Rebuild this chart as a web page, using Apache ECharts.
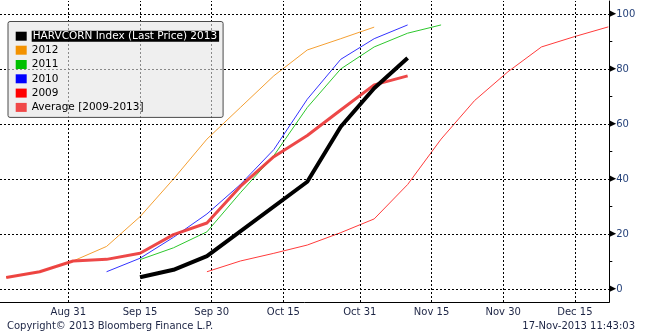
<!DOCTYPE html>
<html>
<head>
<meta charset="utf-8">
<script src="https://cdn.jsdelivr.net/npm/echarts@6/dist/echarts.min.js"></script>
<style>
html,body{margin:0;padding:0;background:#fff;}
#c{width:649px;height:335px;}
</style>
</head>
<body>
<div id="c"></div>
<script>
// ---- data ----
const xTickDates = ['2013-08-31','2013-09-15','2013-09-30','2013-10-15','2013-10-31','2013-11-15','2013-11-30','2013-12-15'];
const xTickLabels = ['Aug 31','Sep 15','Sep 30','Oct 15','Oct 31','Nov 15','Nov 30','Dec 15'];
const yTickValues = [0,20,40,60,80,100];
const yMinorTicks = [10,30,50,70,90];

const seriesNames = ['HARVCORN Index (Last Price) 2013','2012','2011','2010','2009','Average [2009-2013]'];

const harv2013 = [['2013-09-15',4.3],['2013-09-22',7],['2013-09-29',12],['2013-10-20',39],['2013-10-27',59],['2013-11-03',73],['2013-11-10',84]];
const y2012 = [['2013-08-18',4.2],['2013-08-25',6.3],['2013-09-01',10.2],['2013-09-08',15.5],['2013-09-15',26.3],['2013-09-22',40],['2013-09-29',54.5],['2013-10-06',66],['2013-10-13',77.5],['2013-10-20',86.9],['2013-10-27',91],['2013-11-03',95.2]];
const y2011 = [['2013-09-15',10.7],['2013-09-22',15],['2013-09-29',20.8],['2013-10-06',35],['2013-10-13',48.5],['2013-10-20',66],['2013-10-27',80],['2013-11-03',88],['2013-11-10',93],['2013-11-17',96]];
const y2010 = [['2013-09-08',6.3],['2013-09-15',11.2],['2013-09-22',18.8],['2013-09-29',27.3],['2013-10-06',38],['2013-10-13',50.7],['2013-10-20',69],['2013-10-27',83.5],['2013-11-03',91],['2013-11-10',96]];
const y2009 = [['2013-09-29',6.3],['2013-10-06',10.2],['2013-10-13',13],['2013-10-20',16],['2013-10-27',20.5],['2013-11-03',25.5],['2013-11-10',38],['2013-11-17',54.5],['2013-11-24',68.5],['2013-12-01',79],['2013-12-08',88],['2013-12-15',91.8],['2013-12-22',95.3]];
const avg = [['2013-08-18',4.2],['2013-08-25',6.3],['2013-09-01',10.2],['2013-09-08',10.8],['2013-09-15',13],['2013-09-22',19.8],['2013-09-29',24],['2013-10-06',37.3],['2013-10-13',48.1],['2013-10-20',55.8],['2013-10-27',65.1],['2013-11-03',74.2],['2013-11-10',77.5]];

// ---- chart ----
const DAY = 86400000;
const ts = s => new Date(s.replace(/-/g,'/')).getTime();
const toXY = arr => arr.map(p => [ts(p[0]), p[1]]);
const anchor = ts('2013-08-31');
const xMin = anchor - 14.3*DAY;
const xMax = anchor + 113.2*DAY;
const xTickTs = xTickDates.map(ts);
const FONT = 'DejaVu Sans';
const TXT = '#1c2444';

const chart = echarts.init(document.getElementById('c'), null, {renderer:'canvas'});

function lineSeries(name, data, lineColor, iconColor, width, z) {
  return {
    name, type:'line', data:toXY(data), symbol:'none', z,
    lineStyle:{color:lineColor, width},
    itemStyle:{color:iconColor},
    emphasis:{disabled:true},
    animation:false
  };
}

const option = {
  animation:false,
  backgroundColor:'#fff',
  grid:{left:0, right:39.7, top:1, bottom:33, outerBoundsMode:'none', containLabel:false},
  xAxis:{
    type:'value', min:xMin, max:xMax, scale:true,
    axisLine:{show:true, onZero:false, lineStyle:{color:'#000', width:1}},
    axisTick:{show:false, customValues:xTickTs},
    splitLine:{show:false},
    axisLabel:{
      customValues:xTickTs, margin:5,
      fontFamily:FONT, fontSize:10, color:TXT,
      formatter: v => { const i = xTickTs.indexOf(v); return i >= 0 ? xTickLabels[i] : ''; }
    }
  },
  yAxis:{
    type:'value', position:'right', min:-4.7, max:104.7,
    axisLine:{show:true, onZero:false, lineStyle:{color:'#000', width:1}},
    axisTick:{show:true, customValues:yMinorTicks, length:3, lineStyle:{color:'#000'}},
    splitLine:{show:false},
    axisLabel:{
      customValues:yTickValues, margin:0,
      formatter: v => '{t|\u25B6}{n|' + v + '}',
      rich:{
        t:{fontFamily:FONT, fontSize:9, color:'#000'},
        n:{fontFamily:FONT, fontSize:10, color:'#26427a'}
      }
    }
  },
  legend:{
    orient:'vertical', left:8, top:21.5, z:20,
    data:seriesNames,
    icon:'rect', itemWidth:11, itemHeight:9, itemGap:0.3,
    padding:[8,4,3,7.7],
    backgroundColor:'rgba(228,228,228,0.6)', borderColor:'#4a4a4a', borderWidth:1, borderRadius:2,
    selectedMode:false,
    textStyle:{fontFamily:FONT, fontSize:10.5, color:'#000', lineHeight:14,
      rich:{hl:{backgroundColor:'#000', color:'#fff', fontFamily:FONT, fontSize:10.5, lineHeight:13.4, padding:[0,2,0,1]}}},
    formatter: name => name === seriesNames[0] ? '{hl|' + name + '}' : name
  },
  series:[
    {
      type:'line', data:[], z:1, silent:true,
      markLine:{
        silent:true, symbol:'none', animation:false,
        label:{show:false},
        lineStyle:{color:'#000', type:[2,2], width:1},
        emphasis:{disabled:true},
        data:[...xTickTs.map(v => ({xAxis:v})), ...yTickValues.map(v => ({yAxis:v}))]
      }
    },
    lineSeries(seriesNames[0], harv2013, '#000', '#000', 4, 10),
    lineSeries(seriesNames[1], y2012, '#f5a033', '#f39200', 1, 4),
    lineSeries(seriesNames[2], y2011, '#2ec82e', '#00c000', 1, 4),
    lineSeries(seriesNames[3], y2010, '#3333ff', '#0000ff', 1, 4),
    lineSeries(seriesNames[4], y2009, '#ff3b3b', '#ff0000', 1, 4),
    lineSeries(seriesNames[5], avg, 'rgba(236,56,56,0.92)', '#f04848', 3, 8)
  ],
  graphic:[
    {type:'text', left:7, top:321.5, style:{text:'Copyright\u00A9 2013 Bloomberg Finance L.P.', fontFamily:FONT, fontSize:10, fill:TXT}},
    {type:'text', right:14, top:321.5, style:{text:'17-Nov-2013 11:43:03', fontFamily:FONT, fontSize:10, fill:TXT}}
  ]
};
chart.setOption(option);
</script>
</body>
</html>
